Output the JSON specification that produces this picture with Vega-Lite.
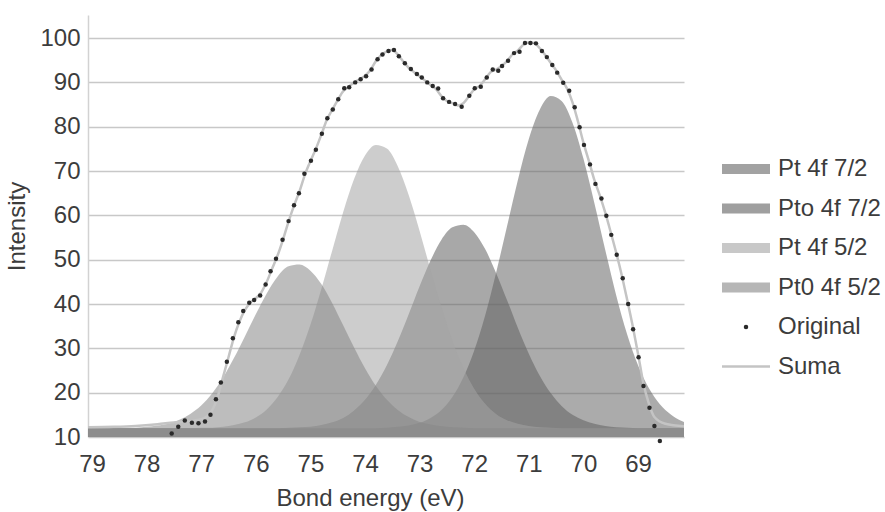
{
  "$schema": "https://vega.github.io/schema/vega-lite/v6.json",
  "width": 596,
  "height": 422,
  "autosize": {"type": "none"},
  "padding": {"left": 88, "top": 15, "right": 201, "bottom": 75},
  "background": "white",
  "config": {
    "view": {"stroke": null},
    "font": "Liberation Sans",
    "axis": {"labelFont": "Liberation Sans", "titleFont": "Liberation Sans"},
    "legend": {"labelFont": "Liberation Sans"}
  },
  "datasets": {
    "comp": [
      {"x": 79.1, "Pt 4f 7/2": 12, "Pto 4f 7/2": 12, "Pt 4f 5/2": 12, "Pt0 4f 5/2": 12},
      {"x": 79.0, "Pt 4f 7/2": 12, "Pto 4f 7/2": 12, "Pt 4f 5/2": 12, "Pt0 4f 5/2": 12},
      {"x": 78.8, "Pt 4f 7/2": 12, "Pto 4f 7/2": 12, "Pt 4f 5/2": 12, "Pt0 4f 5/2": 12},
      {"x": 78.6, "Pt 4f 7/2": 12, "Pto 4f 7/2": 12, "Pt 4f 5/2": 12, "Pt0 4f 5/2": 12},
      {"x": 78.4, "Pt 4f 7/2": 12, "Pto 4f 7/2": 12, "Pt 4f 5/2": 12, "Pt0 4f 5/2": 12.1},
      {"x": 78.2, "Pt 4f 7/2": 12, "Pto 4f 7/2": 12, "Pt 4f 5/2": 12, "Pt0 4f 5/2": 12.1},
      {"x": 78.0, "Pt 4f 7/2": 12, "Pto 4f 7/2": 12, "Pt 4f 5/2": 12, "Pt0 4f 5/2": 12.3},
      {"x": 77.8, "Pt 4f 7/2": 12, "Pto 4f 7/2": 12, "Pt 4f 5/2": 12, "Pt0 4f 5/2": 12.6},
      {"x": 77.6, "Pt 4f 7/2": 12, "Pto 4f 7/2": 12, "Pt 4f 5/2": 12, "Pt0 4f 5/2": 13.0},
      {"x": 77.4, "Pt 4f 7/2": 12, "Pto 4f 7/2": 12, "Pt 4f 5/2": 12, "Pt0 4f 5/2": 13.9},
      {"x": 77.2, "Pt 4f 7/2": 12, "Pto 4f 7/2": 12, "Pt 4f 5/2": 12, "Pt0 4f 5/2": 15.2},
      {"x": 77.0, "Pt 4f 7/2": 12, "Pto 4f 7/2": 12, "Pt 4f 5/2": 12.1, "Pt0 4f 5/2": 17.1},
      {"x": 76.8, "Pt 4f 7/2": 12, "Pto 4f 7/2": 12, "Pt 4f 5/2": 12.1, "Pt0 4f 5/2": 19.8},
      {"x": 76.6, "Pt 4f 7/2": 12, "Pto 4f 7/2": 12, "Pt 4f 5/2": 12.3, "Pt0 4f 5/2": 23.4},
      {"x": 76.4, "Pt 4f 7/2": 12, "Pto 4f 7/2": 12, "Pt 4f 5/2": 12.7, "Pt0 4f 5/2": 27.8},
      {"x": 76.2, "Pt 4f 7/2": 12, "Pto 4f 7/2": 12, "Pt 4f 5/2": 13.3, "Pt0 4f 5/2": 32.7},
      {"x": 76.0, "Pt 4f 7/2": 12, "Pto 4f 7/2": 12, "Pt 4f 5/2": 14.4, "Pt0 4f 5/2": 37.7},
      {"x": 75.8, "Pt 4f 7/2": 12, "Pto 4f 7/2": 12, "Pt 4f 5/2": 16.2, "Pt0 4f 5/2": 42.4},
      {"x": 75.6, "Pt 4f 7/2": 12, "Pto 4f 7/2": 12, "Pt 4f 5/2": 19.0, "Pt0 4f 5/2": 46.2},
      {"x": 75.4, "Pt 4f 7/2": 12, "Pto 4f 7/2": 12.1, "Pt 4f 5/2": 23.0, "Pt0 4f 5/2": 48.5},
      {"x": 75.2, "Pt 4f 7/2": 12, "Pto 4f 7/2": 12.2, "Pt 4f 5/2": 28.5, "Pt0 4f 5/2": 48.9},
      {"x": 75.0, "Pt 4f 7/2": 12, "Pto 4f 7/2": 12.3, "Pt 4f 5/2": 35.3, "Pt0 4f 5/2": 47.5},
      {"x": 74.8, "Pt 4f 7/2": 12, "Pto 4f 7/2": 12.7, "Pt 4f 5/2": 43.4, "Pt0 4f 5/2": 44.5},
      {"x": 74.6, "Pt 4f 7/2": 12, "Pto 4f 7/2": 13.3, "Pt 4f 5/2": 52.1, "Pt0 4f 5/2": 40.2},
      {"x": 74.4, "Pt 4f 7/2": 12, "Pto 4f 7/2": 14.3, "Pt 4f 5/2": 60.7, "Pt0 4f 5/2": 35.2},
      {"x": 74.2, "Pt 4f 7/2": 12, "Pto 4f 7/2": 16.0, "Pt 4f 5/2": 68.2, "Pt0 4f 5/2": 30.2},
      {"x": 74.0, "Pt 4f 7/2": 12, "Pto 4f 7/2": 18.4, "Pt 4f 5/2": 73.5, "Pt0 4f 5/2": 25.5},
      {"x": 73.8, "Pt 4f 7/2": 12.0, "Pto 4f 7/2": 21.8, "Pt 4f 5/2": 75.9, "Pt0 4f 5/2": 21.5},
      {"x": 73.6, "Pt 4f 7/2": 12.1, "Pto 4f 7/2": 26.2, "Pt 4f 5/2": 75.1, "Pt0 4f 5/2": 18.4},
      {"x": 73.4, "Pt 4f 7/2": 12.3, "Pto 4f 7/2": 31.6, "Pt 4f 5/2": 71.1, "Pt0 4f 5/2": 16.1},
      {"x": 73.2, "Pt 4f 7/2": 12.6, "Pto 4f 7/2": 37.7, "Pt 4f 5/2": 64.6, "Pt0 4f 5/2": 14.5},
      {"x": 73.0, "Pt 4f 7/2": 13.2, "Pto 4f 7/2": 44.0, "Pt 4f 5/2": 56.5, "Pt0 4f 5/2": 13.4},
      {"x": 72.8, "Pt 4f 7/2": 14.3, "Pto 4f 7/2": 49.8, "Pt 4f 5/2": 47.7, "Pt0 4f 5/2": 12.8},
      {"x": 72.6, "Pt 4f 7/2": 16.1, "Pto 4f 7/2": 54.5, "Pt 4f 5/2": 39.3, "Pt0 4f 5/2": 12.4},
      {"x": 72.4, "Pt 4f 7/2": 19.0, "Pto 4f 7/2": 57.3, "Pt 4f 5/2": 31.7, "Pt0 4f 5/2": 12.2},
      {"x": 72.2, "Pt 4f 7/2": 23.4, "Pto 4f 7/2": 57.9, "Pt 4f 5/2": 25.6, "Pt0 4f 5/2": 12.1},
      {"x": 72.0, "Pt 4f 7/2": 29.5, "Pto 4f 7/2": 56.2, "Pt 4f 5/2": 20.9, "Pt0 4f 5/2": 12.0},
      {"x": 71.8, "Pt 4f 7/2": 37.4, "Pto 4f 7/2": 52.4, "Pt 4f 5/2": 17.5, "Pt0 4f 5/2": 12},
      {"x": 71.6, "Pt 4f 7/2": 47.0, "Pto 4f 7/2": 47.0, "Pt 4f 5/2": 15.2, "Pt0 4f 5/2": 12},
      {"x": 71.4, "Pt 4f 7/2": 57.5, "Pto 4f 7/2": 40.9, "Pt 4f 5/2": 13.8, "Pt0 4f 5/2": 12},
      {"x": 71.2, "Pt 4f 7/2": 68.0, "Pto 4f 7/2": 34.6, "Pt 4f 5/2": 13.0, "Pt0 4f 5/2": 12},
      {"x": 71.0, "Pt 4f 7/2": 77.2, "Pto 4f 7/2": 28.8, "Pt 4f 5/2": 12.5, "Pt0 4f 5/2": 12},
      {"x": 70.8, "Pt 4f 7/2": 83.8, "Pto 4f 7/2": 23.8, "Pt 4f 5/2": 12.2, "Pt0 4f 5/2": 12},
      {"x": 70.6, "Pt 4f 7/2": 86.9, "Pto 4f 7/2": 19.9, "Pt 4f 5/2": 12.1, "Pt0 4f 5/2": 12},
      {"x": 70.4, "Pt 4f 7/2": 85.8, "Pto 4f 7/2": 17.0, "Pt 4f 5/2": 12.0, "Pt0 4f 5/2": 12},
      {"x": 70.2, "Pt 4f 7/2": 80.9, "Pto 4f 7/2": 15.0, "Pt 4f 5/2": 12, "Pt0 4f 5/2": 12},
      {"x": 70.0, "Pt 4f 7/2": 72.8, "Pto 4f 7/2": 13.8, "Pt 4f 5/2": 12, "Pt0 4f 5/2": 12},
      {"x": 69.8, "Pt 4f 7/2": 62.8, "Pto 4f 7/2": 13.0, "Pt 4f 5/2": 12, "Pt0 4f 5/2": 12},
      {"x": 69.6, "Pt 4f 7/2": 52.2, "Pto 4f 7/2": 12.5, "Pt 4f 5/2": 12, "Pt0 4f 5/2": 12},
      {"x": 69.4, "Pt 4f 7/2": 42.0, "Pto 4f 7/2": 12.2, "Pt 4f 5/2": 12, "Pt0 4f 5/2": 12},
      {"x": 69.2, "Pt 4f 7/2": 33.2, "Pto 4f 7/2": 12.1, "Pt 4f 5/2": 12, "Pt0 4f 5/2": 12},
      {"x": 69.0, "Pt 4f 7/2": 26.2, "Pto 4f 7/2": 12.0, "Pt 4f 5/2": 12, "Pt0 4f 5/2": 12},
      {"x": 68.8, "Pt 4f 7/2": 21.0, "Pto 4f 7/2": 12, "Pt 4f 5/2": 12, "Pt0 4f 5/2": 12},
      {"x": 68.6, "Pt 4f 7/2": 17.4, "Pto 4f 7/2": 12, "Pt 4f 5/2": 12, "Pt0 4f 5/2": 12},
      {"x": 68.4, "Pt 4f 7/2": 15.1, "Pto 4f 7/2": 12, "Pt 4f 5/2": 12, "Pt0 4f 5/2": 12},
      {"x": 68.2, "Pt 4f 7/2": 13.6, "Pto 4f 7/2": 12, "Pt 4f 5/2": 12, "Pt0 4f 5/2": 12},
      {"x": 68.1, "Pt 4f 7/2": 13.2, "Pto 4f 7/2": 12, "Pt 4f 5/2": 12, "Pt0 4f 5/2": 12}
    ],
    "suma": [
      {"x": 79.1, "y": 12.2}, {"x": 78.6, "y": 12.3}, {"x": 78.2, "y": 12.5}, {"x": 77.8, "y": 12.9},
      {"x": 77.5, "y": 13.3}, {"x": 77.2, "y": 13.6}, {"x": 77.0, "y": 14.0}, {"x": 76.9, "y": 14.6},
      {"x": 76.8, "y": 16.0}, {"x": 76.7, "y": 19.0}, {"x": 76.6, "y": 23.5}, {"x": 76.5, "y": 28.0},
      {"x": 76.4, "y": 32.5}, {"x": 76.3, "y": 36.0}, {"x": 76.2, "y": 38.6}, {"x": 76.1, "y": 40.3},
      {"x": 76.0, "y": 41.3}, {"x": 75.9, "y": 42.6}, {"x": 75.8, "y": 45.0}, {"x": 75.7, "y": 48.0},
      {"x": 75.6, "y": 51.0}, {"x": 75.5, "y": 54.6}, {"x": 75.4, "y": 58.6}, {"x": 75.3, "y": 62.2},
      {"x": 75.2, "y": 65.4}, {"x": 75.1, "y": 69.2}, {"x": 75.0, "y": 72.2}, {"x": 74.9, "y": 75.0},
      {"x": 74.8, "y": 78.2}, {"x": 74.7, "y": 81.5}, {"x": 74.6, "y": 83.8}, {"x": 74.5, "y": 86.0},
      {"x": 74.4, "y": 88.0}, {"x": 74.3, "y": 89.0}, {"x": 74.2, "y": 90.0}, {"x": 74.1, "y": 90.7},
      {"x": 74.0, "y": 91.5}, {"x": 73.9, "y": 92.8}, {"x": 73.8, "y": 94.8}, {"x": 73.7, "y": 96.2},
      {"x": 73.6, "y": 97.0}, {"x": 73.5, "y": 97.3}, {"x": 73.4, "y": 96.3}, {"x": 73.3, "y": 94.7},
      {"x": 73.2, "y": 93.3}, {"x": 73.1, "y": 92.3}, {"x": 73.0, "y": 91.4}, {"x": 72.9, "y": 90.4},
      {"x": 72.8, "y": 89.4}, {"x": 72.7, "y": 88.5}, {"x": 72.6, "y": 86.9}, {"x": 72.5, "y": 85.8},
      {"x": 72.4, "y": 85.3}, {"x": 72.3, "y": 84.8}, {"x": 72.2, "y": 85.3}, {"x": 72.1, "y": 86.8},
      {"x": 72.0, "y": 88.4}, {"x": 71.9, "y": 89.2}, {"x": 71.8, "y": 90.7}, {"x": 71.7, "y": 92.3},
      {"x": 71.6, "y": 92.9}, {"x": 71.5, "y": 93.7}, {"x": 71.4, "y": 94.8}, {"x": 71.3, "y": 96.3},
      {"x": 71.2, "y": 97.2}, {"x": 71.1, "y": 98.5}, {"x": 71.0, "y": 99.0}, {"x": 70.9, "y": 98.9},
      {"x": 70.8, "y": 97.7}, {"x": 70.7, "y": 96.2}, {"x": 70.6, "y": 94.4}, {"x": 70.5, "y": 92.7},
      {"x": 70.4, "y": 90.6}, {"x": 70.3, "y": 88.6}, {"x": 70.2, "y": 85.5}, {"x": 70.1, "y": 81.2},
      {"x": 70.0, "y": 76.4}, {"x": 69.9, "y": 72.3}, {"x": 69.8, "y": 68.0}, {"x": 69.7, "y": 64.5},
      {"x": 69.6, "y": 60.6}, {"x": 69.5, "y": 56.2}, {"x": 69.4, "y": 51.6}, {"x": 69.3, "y": 46.6},
      {"x": 69.2, "y": 41.0}, {"x": 69.1, "y": 35.2}, {"x": 69.0, "y": 28.8}, {"x": 68.9, "y": 22.0},
      {"x": 68.8, "y": 17.5}, {"x": 68.7, "y": 14.5}, {"x": 68.5, "y": 13.0}, {"x": 68.1, "y": 12.4}
    ],
    "orig": [
      {"x": 77.54, "y": 10.8}, {"x": 77.42, "y": 12.3}, {"x": 77.30, "y": 13.7}, {"x": 77.17, "y": 13.2},
      {"x": 77.05, "y": 13.1}, {"x": 76.93, "y": 13.5}, {"x": 76.83, "y": 15.0}, {"x": 76.73, "y": 18.5},
      {"x": 76.64, "y": 22.3}, {"x": 76.53, "y": 27.0}, {"x": 76.42, "y": 32.3}, {"x": 76.32, "y": 35.9},
      {"x": 76.23, "y": 38.4}, {"x": 76.12, "y": 40.3}, {"x": 76.03, "y": 40.9}, {"x": 75.92, "y": 41.9},
      {"x": 75.82, "y": 44.4}, {"x": 75.73, "y": 47.4}, {"x": 75.63, "y": 50.2}, {"x": 75.51, "y": 54.5},
      {"x": 75.40, "y": 58.7}, {"x": 75.30, "y": 62.3}, {"x": 75.21, "y": 65.0}, {"x": 75.11, "y": 69.4},
      {"x": 74.99, "y": 72.3}, {"x": 74.90, "y": 74.8}, {"x": 74.79, "y": 78.4}, {"x": 74.69, "y": 81.9},
      {"x": 74.59, "y": 83.9}, {"x": 74.49, "y": 86.2}, {"x": 74.38, "y": 88.7}, {"x": 74.29, "y": 88.9},
      {"x": 74.18, "y": 90.0}, {"x": 74.08, "y": 90.7}, {"x": 73.98, "y": 91.4}, {"x": 73.88, "y": 92.9},
      {"x": 73.77, "y": 95.2}, {"x": 73.68, "y": 96.3}, {"x": 73.57, "y": 97.1}, {"x": 73.47, "y": 97.3},
      {"x": 73.38, "y": 95.9}, {"x": 73.27, "y": 94.3}, {"x": 73.16, "y": 93.0}, {"x": 73.05, "y": 91.9},
      {"x": 72.96, "y": 91.1}, {"x": 72.86, "y": 90.0}, {"x": 72.76, "y": 89.2}, {"x": 72.66, "y": 88.6},
      {"x": 72.57, "y": 86.4}, {"x": 72.46, "y": 85.6}, {"x": 72.35, "y": 85.1}, {"x": 72.23, "y": 84.5},
      {"x": 72.09, "y": 87.0}, {"x": 71.99, "y": 88.7}, {"x": 71.88, "y": 89.0}, {"x": 71.77, "y": 91.1},
      {"x": 71.66, "y": 92.9}, {"x": 71.56, "y": 92.6}, {"x": 71.49, "y": 93.7}, {"x": 71.38, "y": 94.9},
      {"x": 71.27, "y": 96.6}, {"x": 71.17, "y": 96.9}, {"x": 71.07, "y": 98.9}, {"x": 70.97, "y": 98.9},
      {"x": 70.87, "y": 98.8}, {"x": 70.76, "y": 97.1}, {"x": 70.67, "y": 95.7}, {"x": 70.57, "y": 93.9},
      {"x": 70.48, "y": 92.2}, {"x": 70.37, "y": 89.9}, {"x": 70.26, "y": 88.1}, {"x": 70.16, "y": 84.4},
      {"x": 70.07, "y": 79.9}, {"x": 69.99, "y": 75.9}, {"x": 69.88, "y": 71.5}, {"x": 69.78, "y": 67.1},
      {"x": 69.67, "y": 63.8}, {"x": 69.58, "y": 59.9}, {"x": 69.49, "y": 55.6}, {"x": 69.39, "y": 51.1},
      {"x": 69.28, "y": 45.8}, {"x": 69.18, "y": 40.0}, {"x": 69.09, "y": 34.3}, {"x": 68.99, "y": 28.0},
      {"x": 68.90, "y": 21.5}, {"x": 68.79, "y": 16.6}, {"x": 68.70, "y": 12.5}, {"x": 68.60, "y": 9.1}
    ]
  },
  "encoding": {
    "x": {
      "field": "x",
      "type": "quantitative",
      "scale": {"domain": [68.158, 79.073], "reverse": true, "nice": false, "zero": false},
      "axis": {
        "title": "Bond energy (eV)",
        "values": [79, 78, 77, 76, 75, 74, 73, 72, 71, 70, 69],
        "format": "d",
        "grid": false,
        "domain": false,
        "ticks": false,
        "labelFontSize": 24,
        "labelColor": "#3c3c3c",
        "labelPadding": 15,
        "labelFlush": false,
        "labelOverlap": false,
        "titleFontSize": 24,
        "titleFontWeight": "normal",
        "titleColor": "#3c3c3c",
        "titlePadding": 10,
        "titleX": 282
      }
    },
    "y": {
      "field": "y",
      "type": "quantitative",
      "scale": {"domain": [10, 105.2], "nice": false, "zero": false},
      "axis": {
        "title": "Intensity",
        "values": [10, 20, 30, 40, 50, 60, 70, 80, 90, 100],
        "grid": true,
        "gridColor": "#c8c8c8",
        "gridWidth": 1.5,
        "domain": true,
        "domainColor": "#d2d2d2",
        "domainWidth": 1.5,
        "ticks": false,
        "labelFontSize": 24,
        "labelColor": "#3c3c3c",
        "labelPadding": 8,
        "titleFontSize": 24,
        "titleFontWeight": "normal",
        "titleColor": "#3c3c3c",
        "titlePadding": 10
      }
    }
  },
  "layer": [
    {
      "data": {"name": "comp"},
      "transform": [
        {"fold": ["Pt 4f 7/2", "Pto 4f 7/2", "Pt 4f 5/2", "Pt0 4f 5/2"], "as": ["series", "y"]}
      ],
      "mark": {"type": "area", "opacity": 0.55, "interpolate": "monotone", "clip": true},
      "encoding": {
        "y2": {"datum": 10},
        "color": {
          "field": "series",
          "type": "nominal",
          "scale": {
            "domain": ["Pt 4f 7/2", "Pto 4f 7/2", "Pt 4f 5/2", "Pt0 4f 5/2", "Original", "Suma"],
            "range": ["#666666", "#616161", "#a4a4a4", "#878787", "#2a2a2a", "#c4c4c4"]
          },
          "legend": {
            "title": null,
            "orient": "none",
            "legendX": 646,
            "legendY": 142,
            "direction": "vertical",
            "labelFontSize": 24,
            "labelColor": "#3c3c3c",
            "symbolSize": 400,
            "symbolOpacity": 1,
            "rowPadding": 15.5,
            "labelOffset": 20,
            "encode": {
              "symbols": {
                "update": {
                  "shape": {"signal": "datum.value === 'Original' ? 'circle' : (datum.value === 'Suma' ? 'M-2.4,0H2.4' : 'M-2.4,-0.5H2.4V0.5H-2.4Z')"},
                  "size": {"signal": "datum.value === 'Original' ? 20 : 400"},
                  "stroke": {"signal": "datum.value === 'Suma' ? '#c4c4c4' : 'transparent'"},
                  "strokeWidth": {"value": 2.5},
                  "opacity": {"signal": "datum.value === 'Original' || datum.value === 'Suma' ? 1 : 0.6"}
                }
              }
            }
          }
        }
      }
    },
    {
      "data": {"name": "suma"},
      "mark": {"type": "line", "strokeWidth": 2.5, "interpolate": "monotone", "clip": true, "color": "#c4c4c4"},
      "encoding": {}
    },
    {
      "data": {"name": "orig"},
      "mark": {"type": "point", "filled": true, "size": 20, "opacity": 1, "color": "#2a2a2a"},
      "encoding": {}
    }
  ]
}
